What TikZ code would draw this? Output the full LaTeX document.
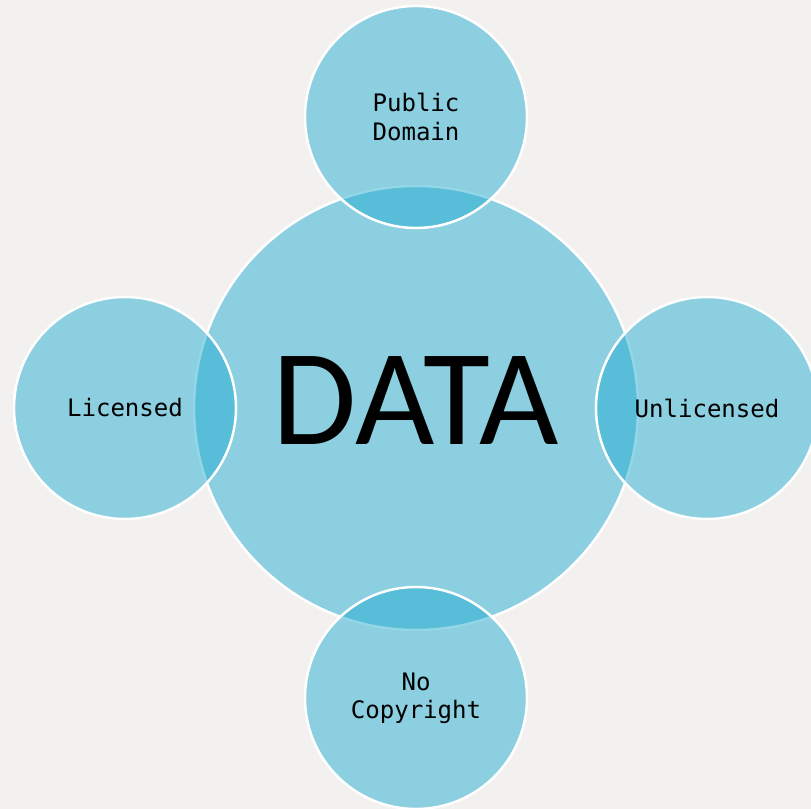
\documentclass[tikz,border=0pt]{standalone}
\usepackage{fontspec}
\setmainfont{Carlito}
\newfontfamily\labelfont{DejaVu Sans Mono}
\usetikzlibrary{calc}

\definecolor{bgpaper}{RGB}{242,241,240}
\definecolor{bubble}{RGB}{30,170,208}

\tikzset{
    hub/.style={circle, minimum size=4.44cm, inner sep=0pt, draw=white, line width=0.7pt,
        fill=bubble, fill opacity=0.48, text opacity=1},
    hubtext/.style={font=\fontsize{39}{42}\selectfont},
    leaf/.style={circle, minimum size=2.22cm, inner sep=0pt, draw=white, line width=0.7pt,
        fill=bubble, fill opacity=0.48, text opacity=1, align=center,
        font=\labelfont\fontsize{6.85}{8}\selectfont},
}

\begin{document}
\begin{tikzpicture}
    \useasboundingbox[fill=bgpaper] (0,0) rectangle (8.11,-8.09);
    \clip (0,0) rectangle (8.11,-8.09);

    \node[hub] (data) at (4.16,-4.08) {};
    \node[hubtext] (datatext) at ($(data)+(0,0.07)$) {DATA};

    \node[leaf] (pd) at ($(data)+(0,2.91)$) {Public\\Domain};
    \node[leaf] (lic) at ($(data)+(-2.91,0)$) {Licensed};
    \node[leaf] (unl) at ($(data)+(2.91,0)$) {Unlicensed};
    \node[leaf] (nc) at ($(data)+(0,-2.90)$) {No\\Copyright};
\end{tikzpicture}
\end{document}
